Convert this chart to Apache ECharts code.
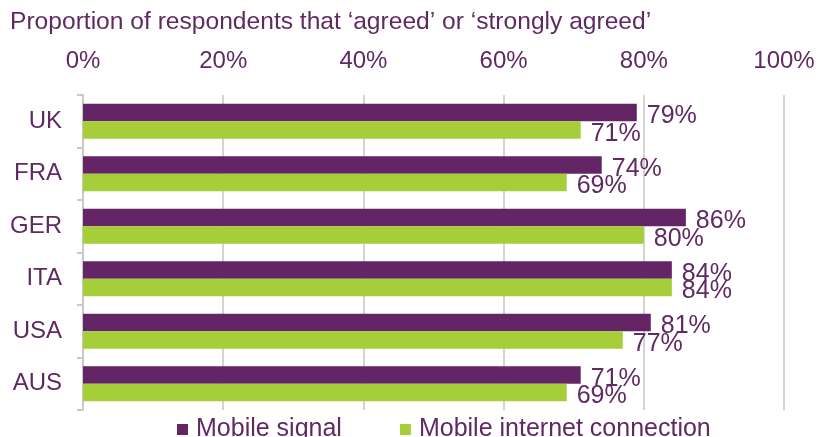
<!DOCTYPE html>
<html>
<head>
<meta charset="utf-8">
<script src="https://cdn.jsdelivr.net/npm/echarts@6/dist/echarts.min.js"></script>
<style>
  html, body { margin: 0; padding: 0; background: #ffffff; }
  #chart { width: 818px; height: 437px; }
</style>
</head>
<body>
<div id="chart"></div>
<script>
// Survey results by country
const countries = ['UK', 'FRA', 'GER', 'ITA', 'USA', 'AUS'];
const mobileSignal = [79, 74, 86, 84, 81, 71];
const mobileInternet = [71, 69, 80, 84, 77, 69];
const seriesNames = ['Mobile signal', 'Mobile internet connection'];
const axisTicks = [0, 20, 40, 60, 80, 100];

const PURPLE = '#632565';
const GREEN = '#a6ce39';
const TEXT = '#5f2a62';
const FONT = 'Liberation Sans, Arial, sans-serif';

const chart = echarts.init(document.getElementById('chart'));

function barLabel(dy) {
  return {
    show: true,
    position: 'right',
    distance: 10,
    offset: [0, dy],
    color: TEXT,
    fontFamily: FONT,
    fontSize: 25,
    formatter: p => p.value + '%'
  };
}

chart.setOption({
  animation: false,
  backgroundColor: '#ffffff',
  title: {
    text: 'Proportion of respondents that \u2018agreed\u2019 or \u2018strongly agreed\u2019',
    left: 10,
    top: 10,
    padding: 0,
    textStyle: { color: TEXT, fontFamily: FONT, fontSize: 24.6, fontWeight: 'normal' }
  },
  legend: {
    left: 177,
    top: 417,
    padding: 0,
    itemWidth: 11,
    itemHeight: 11,
    itemGap: 58,
    icon: 'rect',
    data: seriesNames,
    textStyle: { color: TEXT, fontFamily: FONT, fontSize: 25, padding: [0, 0, 0, 3] }
  },
  grid: { left: 83, right: 34, top: 95, bottom: 27, containLabel: false },
  xAxis: {
    type: 'value',
    position: 'top',
    min: axisTicks[0],
    max: axisTicks[axisTicks.length - 1],
    interval: axisTicks[1] - axisTicks[0],
    axisLine: { show: false },
    axisTick: { show: false },
    axisLabel: {
      color: TEXT, fontFamily: FONT, fontSize: 24, margin: 22,
      formatter: v => v + '%'
    },
    splitLine: { show: true, lineStyle: { color: '#d4d4d4', width: 2 } }
  },
  yAxis: {
    type: 'category',
    data: countries,
    inverse: true,
    axisLine: { show: true, lineStyle: { color: '#c8c8c8', width: 2 } },
    axisTick: { show: true, length: 6, lineStyle: { color: '#c8c8c8', width: 2 } },
    axisLabel: { color: TEXT, fontFamily: FONT, fontSize: 24, margin: 21, padding: [5, 0, 0, 0] },
    splitLine: { show: false }
  },
  series: [
    {
      name: seriesNames[0],
      type: 'bar',
      data: mobileSignal,
      barWidth: 17.5,
      barGap: '0%',
      itemStyle: { color: PURPLE },
      label: barLabel(4)
    },
    {
      name: seriesNames[1],
      type: 'bar',
      data: mobileInternet,
      barWidth: 17.5,
      barGap: '0%',
      itemStyle: { color: GREEN },
      label: barLabel(4)
    }
  ]
});
</script>
</body>
</html>
